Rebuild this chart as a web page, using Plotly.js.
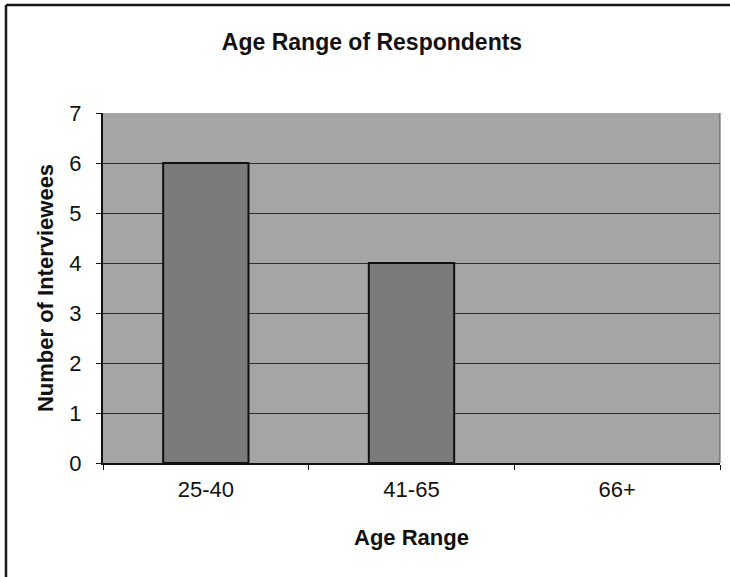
<!DOCTYPE html>
<html>
<head>
<meta charset="utf-8">
<script src="https://cdn.plot.ly/plotly-3.0.1.min.js"></script>
<style>
  html, body { margin: 0; padding: 0; background: #ffffff; }
  #chart { width: 730px; height: 577px; }
</style>
</head>
<body>
<div id="chart"></div>
<script>
const categories = ["25-40", "41-65", "66+"];
const interviewees = [6, 4, 0];
const yTicks = [0, 1, 2, 3, 4, 5, 6, 7];

const font = "Arial, 'Liberation Sans', sans-serif";

const trace = {
  type: "bar",
  x: categories,
  y: interviewees,
  marker: {
    color: "#7b7b7b",
    line: { color: "#111111", width: interviewees.map(v => (v > 0 ? 2 : 0)) }
  },
  hoverinfo: "x+y"
};

const layout = {
  width: 730,
  height: 577,
  margin: { l: 103, r: 10, t: 113, b: 114 },
  paper_bgcolor: "#ffffff",
  plot_bgcolor: "#a5a5a5",
  bargap: 0.585,
  showlegend: false,
  font: { family: font, color: "#111111", size: 22 },
  title: {
    text: "<b>Age Range of Respondents</b>",
    font: { family: font, size: 23, color: "#111111" },
    x: 372 / 730, xref: "container", xanchor: "center",
    y: 1 - 42 / 577, yref: "container", yanchor: "middle"
  },
  xaxis: {
    type: "category",
    showline: true, linecolor: "#111111", linewidth: 2,
    ticks: "outside", tickson: "boundaries", ticklen: 5, tickcolor: "#111111", tickwidth: 1,
    showgrid: false, zeroline: false,
    ticklabelstandoff: 6,
    tickfont: { family: font, size: 22, color: "#111111" },
    title: { text: "<b>Age Range</b>", font: { family: font, size: 22, color: "#111111" }, standoff: 28 }
  },
  yaxis: {
    range: [0, 7],
    tickvals: yTicks,
    showline: true, linecolor: "#111111", linewidth: 2,
    ticks: "outside", ticklen: 5, tickcolor: "#111111", tickwidth: 1,
    showgrid: true, gridcolor: "#2e2e2e", gridwidth: 1,
    zeroline: false,
    ticklabelstandoff: 10,
    tickfont: { family: font, size: 22, color: "#111111" },
    title: { text: "<b>Number of Interviewees</b>", font: { family: font, size: 22, color: "#111111" }, standoff: 10 }
  },
  shapes: [
    { type: "line", xref: "paper", yref: "paper", x0: 1, x1: 1, y0: 0, y1: 1, line: { color: "#555555", width: 1 } },
    { type: "line", xref: "paper", yref: "paper", x0: (6 - 103) / 617, x1: (6 - 103) / 617, y0: (463 - 5) / 350, y1: (463 - 577) / 350, line: { color: "#1a1a1a", width: 2.5 } },
    { type: "line", xref: "paper", yref: "paper", x0: (6 - 103) / 617, x1: (730 - 103) / 617, y0: (463 - 5) / 350, y1: (463 - 5) / 350, line: { color: "#1a1a1a", width: 2.5 } }
  ]
};

Plotly.newPlot("chart", [trace], layout, { displayModeBar: false, staticPlot: true });
</script>
</body>
</html>
